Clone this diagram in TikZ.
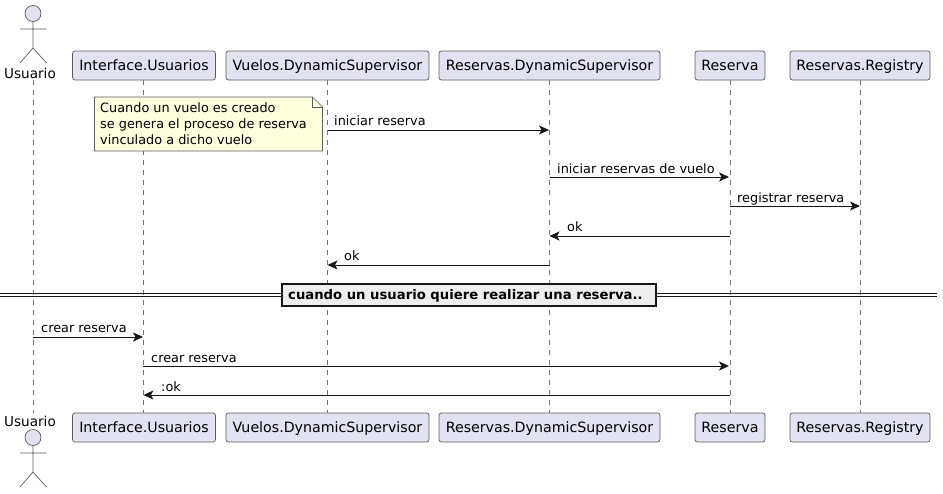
\documentclass[tikz,border=0pt]{standalone}
\usepackage{fontspec}
\setmainfont{DejaVu Sans}
\usetikzlibrary{arrows.meta}
\definecolor{partfill}{HTML}{E2E2F0}
\definecolor{notefill}{HTML}{FEFFDD}
\definecolor{divfill}{HTML}{EEEEEE}
\definecolor{edge}{HTML}{181818}
\tikzset{
  part/.style={draw=edge!70, line width=0.7pt, fill=partfill, rounded corners=2.5pt, minimum height=29pt, inner sep=0pt, text height=11.5pt, text depth=2.5pt, font=\fontsize{14.2}{16}\selectfont},
  life/.style={draw=edge!60, line width=0.7pt, dash pattern=on 5pt off 5pt},
  msg/.style={draw=edge, line width=0.8pt, -{Stealth[length=10pt,width=9pt,inset=2.5pt]}},
  lbl/.style={anchor=base west, inner sep=0pt, font=\fontsize{12.85}{15}\selectfont},
  stick/.style={draw=edge!70, line width=0.7pt},
}
\begin{document}
\begin{tikzpicture}[x=1pt,y=-1pt]
    \useasboundingbox (0,0) rectangle (943,493);
    % lifelines
    \coordinate (usrTop) at (33,80);
    \coordinate (usrBot) at (33,413);
    \draw[life] (usrTop) -- (usrBot);
    \node[part, minimum width=143pt] (ifaceTop) at (144,65.5) {Interface.Usuarios};
    \node[part, minimum width=203pt] (vuelosTop) at (327.5,65.5) {Vuelos.DynamicSupervisor};
    \node[part, minimum width=221pt] (supTop) at (549.5,65.5) {Reservas.DynamicSupervisor};
    \node[part, minimum width=70pt] (resTop) at (730,65.5) {Reserva};
    \node[part, minimum width=140pt] (regTop) at (860,65.5) {Reservas.Registry};
    \node[part, minimum width=143pt] (ifaceBot) at (144,427.5) {Interface.Usuarios};
    \node[part, minimum width=203pt] (vuelosBot) at (327.5,427.5) {Vuelos.DynamicSupervisor};
    \node[part, minimum width=221pt] (supBot) at (549.5,427.5) {Reservas.DynamicSupervisor};
    \node[part, minimum width=70pt] (resBot) at (730,427.5) {Reserva};
    \node[part, minimum width=140pt] (regBot) at (860,427.5) {Reservas.Registry};
    \draw[life] (143.4,80) -- (143.4,413);
    \draw[life] (vuelosTop.south) -- (vuelosBot.north);
    \draw[life] (supTop.south) -- (supBot.north);
    \draw[life] (resTop.south) -- (resBot.north);
    \draw[life] (regTop.south) -- (regBot.north);
    % actor, top
    \node[circle, stick, fill=partfill, minimum size=16pt, inner sep=0pt] (headTop) at (33,13.5) {};
    \draw[stick] (headTop.south) -- (33,48) (20,29) -- (46.5,29) (20,63) -- (33,48) -- (46.5,63);
    \node[font=\fontsize{13.6}{15}\selectfont, inner sep=0pt] (usrLabelTop) at (30,73) {Usuario};
    % actor, bottom
    \node[font=\fontsize{13.6}{15}\selectfont, inner sep=0pt] (usrLabelBot) at (30,421) {Usuario};
    \node[circle, stick, fill=partfill, minimum size=16pt, inner sep=0pt] (headBot) at (33,437.5) {};
    \draw[stick] (headBot.south) -- (33,472) (20,453) -- (46.5,453) (20,487) -- (33,472) -- (46.5,487);
    % note
    \draw[stick, fill=notefill] (94.5,97) -- (312.5,97) -- (322.5,107) -- (322.5,151) -- (94.5,151) -- cycle;
    \draw[stick] (312.5,97) -- (312.5,107) -- (322.5,107);
    \node[lbl] (noteA) at (100,112.5) {Cuando un vuelo es creado};
    \node[lbl] (noteB) at (100,128.5) {se genera el proceso de reserva};
    \node[lbl] (noteC) at (100,144.5) {vinculado a dicho vuelo};
    % messages
    \coordinate (a1) at (327.5,130);
    \coordinate (b1) at (549,130);
    \draw[msg] (a1) -- (b1);
    \node[lbl] (m1) at (334,125) {iniciar reserva};
    \coordinate (a2) at (549.5,177);
    \coordinate (b2) at (729,177);
    \draw[msg] (a2) -- (b2);
    \node[lbl] (m2) at (557,173) {iniciar reservas de vuelo};
    \coordinate (a3) at (730,206);
    \coordinate (b3) at (860,206);
    \draw[msg] (a3) -- (b3);
    \node[lbl] (m3) at (737,202) {registrar reserva};
    \coordinate (a4) at (730,236);
    \coordinate (b4) at (549.5,236);
    \draw[msg] (a4) -- (b4);
    \node[lbl] (m4) at (567,231.5) {ok};
    \coordinate (a5) at (549.5,265);
    \coordinate (b5) at (327.5,265);
    \draw[msg] (a5) -- (b5);
    \node[lbl] (m5) at (344,260.5) {ok};
    \coordinate (a6) at (33,337);
    \coordinate (b6) at (143,337);
    \draw[msg] (a6) -- (b6);
    \node[lbl] (m6) at (41,332) {crear reserva};
    \coordinate (a7) at (143.4,366);
    \coordinate (b7) at (729,366);
    \draw[msg] (a7) -- (b7);
    \node[lbl] (m7) at (151,362) {crear reserva};
    \coordinate (a8) at (730,395);
    \coordinate (b8) at (143.4,395);
    \draw[msg] (a8) -- (b8);
    \node[lbl] (m8) at (161,391) {:ok};
    % divider
    \coordinate (divL) at (0,293);
    \coordinate (divR) at (937,293);
    \coordinate (divLb) at (0,296);
    \coordinate (divRb) at (937,296);
    \draw[edge, line width=0.9pt] (divL) -- (divR) (divLb) -- (divRb);
    \node[draw=edge, line width=2pt, fill=divfill, minimum width=374pt, minimum height=22pt, inner sep=0pt] (divider) at (468.5,294.5) {};
    \node[anchor=base west, inner sep=0pt, font=\fontsize{13.2}{15}\selectfont\bfseries] (divText) at (288,299) {cuando un usuario quiere realizar una reserva..};
\end{tikzpicture}
\end{document}
